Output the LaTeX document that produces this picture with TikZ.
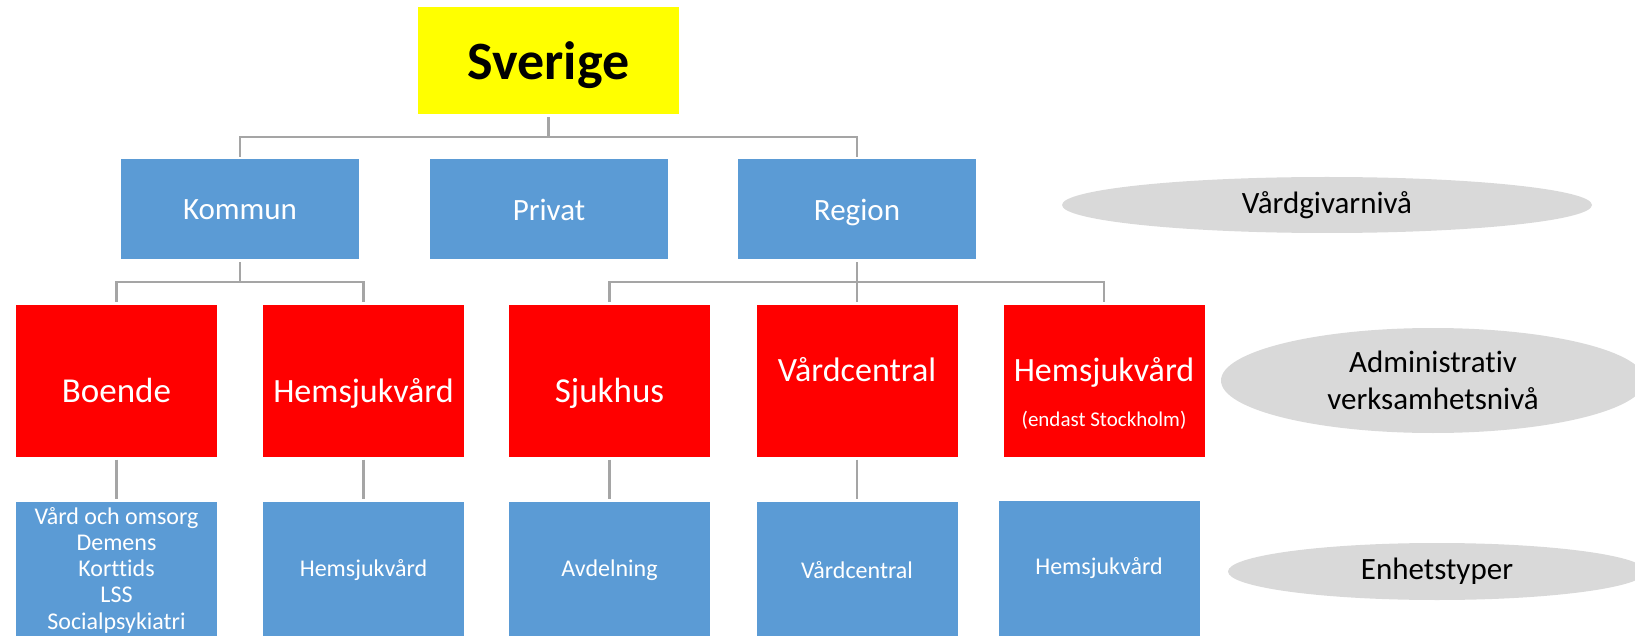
\documentclass[tikz,border=0pt]{standalone}
\usepackage{fontspec}
\setmainfont[Ligatures=NoCommon]{Carlito}
\usepackage{xcolor}
\usepackage{tikz}
\usetikzlibrary{shapes.geometric}

\definecolor{boxblue}{HTML}{5B9BD5}
\definecolor{boxred}{HTML}{FF0000}
\definecolor{boxyellow}{HTML}{FFFF00}
\definecolor{tiergray}{HTML}{D9D9D9}
\definecolor{linegray}{HTML}{A5A5A5}

\begin{document}
\begin{tikzpicture}[x=1pt, y=-1pt,
    box/.style={rectangle, inner sep=0pt, text=white},
    toplvl/.style={box, fill=boxyellow, text=black, minimum width=261pt, minimum height=107pt, text depth=0pt, font=\fontsize{54}{60}\selectfont\bfseries},
    owner/.style={box, fill=boxblue, minimum width=238pt, minimum height=100pt, text depth=0pt, font=\fontsize{31}{37}\selectfont},
    unit/.style={box, fill=boxred, minimum width=201pt, minimum height=152pt},
    unittext/.style={anchor=base, text=white, inner sep=0pt, font=\fontsize{35}{42}\selectfont},
    kind/.style={box, fill=boxblue, minimum width=201pt, minimum height=136pt, align=center, font=\fontsize{24}{26.25}\selectfont},
    tier/.style={ellipse, fill=tiergray, inner sep=0pt, align=center, font=\fontsize{31}{37}\selectfont},
    link/.style={draw=linegray, line width=2.5pt, shorten <=2.5pt, shorten >=2.5pt}]

    \useasboundingbox (0,0) rectangle (1635,636);
    \clip (0,0) rectangle (1635,636);

    % Sverige
    \node[toplvl] (sverige) at (548.5,61) {Sverige};

    % Vardgivare
    \node[owner] (kommun) at (240,209.5) {Kommun};
    \node[owner] (privat) at (549,209.5) {Privat};
    \node[owner] (region) at (857,209.5) {Region};

    % Verksamheter
    \node[unit] (boende) at (116.5,381) {};
    \node[unit] (hemK) at (363.5,381) {};
    \node[unit] (sjukhus) at (609.5,381) {};
    \node[unit] (vc) at (857,381) {};
    \node[unit] (hemR) at (1104,381) {};

    \node[unittext] (boendeT) at (116.5,402) {Boende};
    \node[unittext, font=\fontsize{34}{40}\selectfont] (hemKT) at (363.5,402) {Hemsjukvård};
    \node[unittext] (sjukhusT) at (609.5,402) {Sjukhus};
    \node[unittext, font=\fontsize{34}{40}\selectfont] (vcT) at (857,381) {Vårdcentral};
    \node[unittext, font=\fontsize{34}{40}\selectfont] (hemRT) at (1104,381) {Hemsjukvård};
    \node[unittext, font=\fontsize{21}{25}\selectfont] (hemRnote) at (1104,426) {(endast Stockholm)};

    % Enhetstyper
    \node[kind] (boendeE) at (116.5,570) {Vård och omsorg\\Demens\\Korttids\\LSS\\Socialpsykiatri};
    \node[kind] (hemKE) at (363.5,570) {Hemsjukvård};
    \node[kind] (sjukhusE) at (609.5,570) {Avdelning};
    \node[kind] (vcE) at (857,570) {Vårdcentral};
    \node[kind] (hemRE) at (1099,568.5) {Hemsjukvård};

    % Nivaer
    \node[tier, minimum width=530pt, minimum height=56pt] (vgniva) at (1327,205) {Vårdgivarnivå};
    \node[tier, minimum width=424pt, minimum height=105pt] (admniva) at (1433,380.5) {Administrativ\\verksamhetsnivå};
    \node[tier, minimum width=418pt, minimum height=57pt] (enhniva) at (1437,571.5) {Enhetstyper};

    % Lines
    \draw[link] (sverige.south) -- ++(0,22.5) -| (kommun.north);
    \draw[link] (sverige.south) -- ++(0,22.5) -| (region.north);
    \draw[link] (kommun.south) -- ++(0,22.5) -| (boende.north);
    \draw[link] (kommun.south) -- ++(0,22.5) -| (hemK.north);
    \draw[link] (region.south) -- ++(0,22.5) -| (sjukhus.north);
    \draw[link] (region.south) -- (vc.north);
    \draw[link] (region.south) -- ++(0,22.5) -| (hemR.north);
    \foreach \x in {boende, hemK, sjukhus, vc}
        \draw[link] (\x.south) -- (\x E.north);

\end{tikzpicture}
\end{document}
